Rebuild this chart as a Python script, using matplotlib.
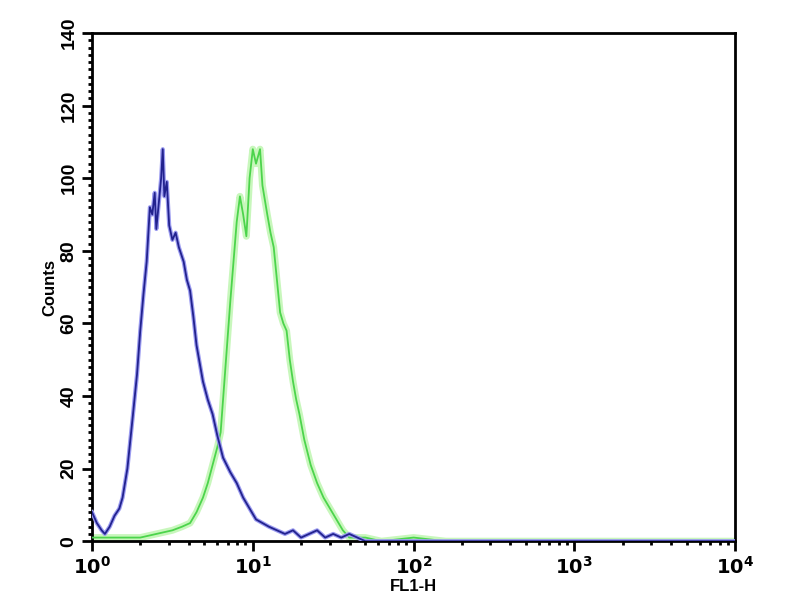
import numpy as np
import matplotlib
matplotlib.use("Agg")
import matplotlib.pyplot as plt
from matplotlib.ticker import LogLocator, MultipleLocator, FixedLocator

plt.rcParams['font.family'] = ['Liberation Sans', 'DejaVu Sans']

# log10(FL1-H) positions and counts
blue_logx = [0.00, 0.03, 0.06, 0.08, 0.11, 0.14, 0.17, 0.19, 0.22, 0.255, 0.28, 0.30,
             0.32, 0.34, 0.36, 0.375, 0.39, 0.40, 0.415, 0.43, 0.44, 0.45, 0.465,
             0.48, 0.50, 0.52, 0.54, 0.57, 0.59, 0.61, 0.63, 0.65, 0.69, 0.72,
             0.75, 0.78, 0.815, 0.86, 0.90, 0.94, 0.98, 1.02, 1.06, 1.10, 1.15,
             1.20, 1.25, 1.30, 1.35, 1.40, 1.45, 1.50, 1.55, 1.60, 1.65, 1.70,
             2.0, 2.5, 3.0, 3.5, 4.0]
blue_counts = [8, 5, 3, 2, 4, 7, 9, 12, 20, 35, 46, 58, 68, 77, 92, 90, 96, 86,
               93, 100, 108, 95, 99, 87, 83, 85, 81, 77, 72, 69, 62, 54, 44, 39,
               35, 29, 23, 19, 16, 12, 9, 6, 5, 4, 3, 2, 3, 1, 2, 3, 1, 2, 1,
               2, 1, 0, 0, 0, 0, 0, 0]

green_logx = [0.00, 0.10, 0.20, 0.30, 0.40, 0.50, 0.56, 0.61, 0.65, 0.69, 0.72,
              0.75, 0.78, 0.80, 0.82, 0.84, 0.86, 0.88, 0.90, 0.92, 0.94, 0.96,
              0.98, 1.00, 1.02, 1.045, 1.06, 1.09, 1.11, 1.13, 1.15, 1.17, 1.19,
              1.21, 1.23, 1.25, 1.27, 1.29, 1.32, 1.36, 1.40, 1.44, 1.48, 1.52,
              1.56, 1.60, 1.70, 1.80, 2.0, 2.2, 2.5, 3.0, 3.5, 4.0]
green_counts = [1, 1, 1, 1, 2, 3, 4, 5, 8, 12, 16, 21, 26, 30, 42, 54, 66, 77,
                88, 95, 90, 84, 100, 108, 104, 108, 98, 90, 85, 81, 72, 63, 60,
                58, 50, 44, 39, 35, 28, 21, 16, 12, 9, 6, 3, 1, 1, 0, 1, 0, 0,
                0, 0, 0]

fig = plt.figure(figsize=(8, 6), dpi=100)
ax = fig.add_axes([0.115, 0.098, 0.804, 0.847])

gx = np.power(10.0, green_logx)
bx = np.power(10.0, blue_logx)
ax.plot(gx, green_counts, color='#c8f7bc', lw=5, solid_joinstyle='round', zorder=2)
ax.plot(gx, green_counts, color='#4cd44c', lw=1.3, zorder=3)
ax.plot(bx, blue_counts, color='#9c9cf0', lw=3, solid_joinstyle='round', zorder=4)
ax.plot(bx, blue_counts, color='#22228e', lw=1.3, zorder=5)

ax.set_xscale('log')
ax.set_xlim(1, 1e4)
ax.set_ylim(0, 140)

ax.xaxis.set_major_locator(FixedLocator([1, 10, 100, 1000, 10000]))
ax.xaxis.set_minor_locator(LogLocator(base=10, subs=np.arange(2, 10)))
ax.yaxis.set_major_locator(MultipleLocator(20))
ax.yaxis.set_minor_locator(MultipleLocator(2))

ax.tick_params(axis='both', which='major', length=7, width=2, direction='out',
               labelsize=14)
ax.tick_params(axis='both', which='minor', length=3, width=2, direction='out')
ax.set_xticklabels([r'$\mathbf{10^{0}}$', r'$\mathbf{10^{1}}$', r'$\mathbf{10^{2}}$',
                    r'$\mathbf{10^{3}}$', r'$\mathbf{10^{4}}$'])
for lab in ax.get_yticklabels():
    lab.set_rotation(90)
    lab.set_verticalalignment('center')
    lab.set_fontweight('bold')

ax.set_xlabel('FL1-H', fontsize=12, fontweight='bold', labelpad=1)
ax.set_ylabel('Counts', fontsize=12, fontweight='bold', labelpad=2)

for sp in ax.spines.values():
    sp.set_linewidth(2)

fig.savefig('out.png', dpi=100)
